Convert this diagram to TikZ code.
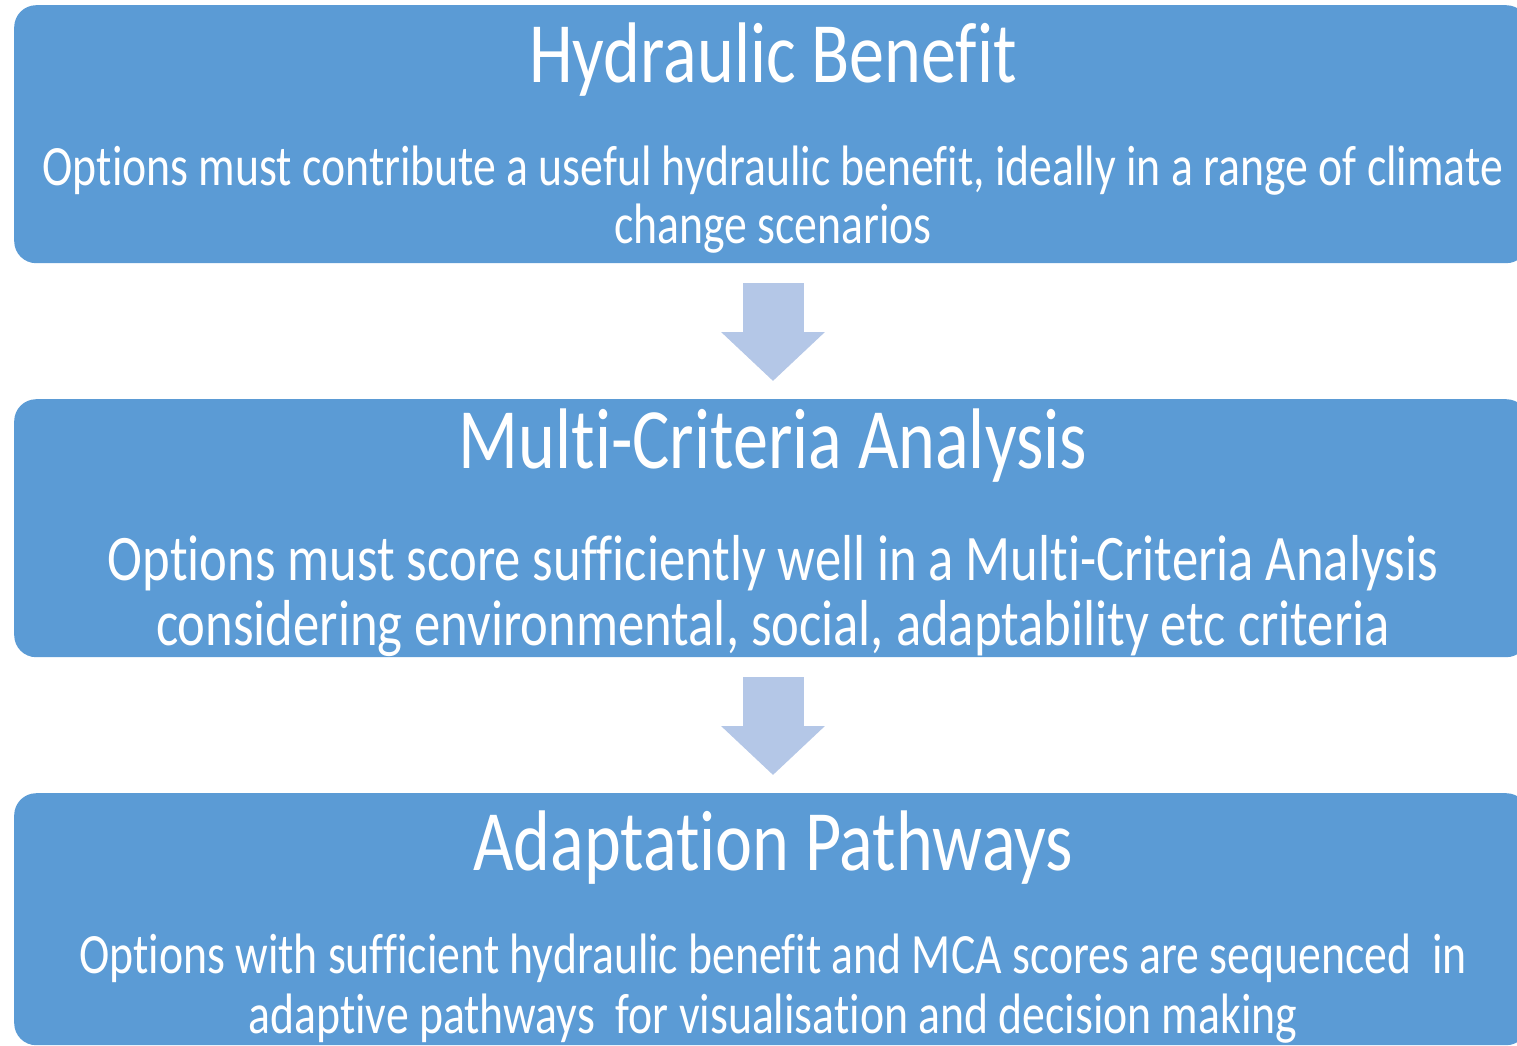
\documentclass[tikz,border=0pt]{standalone}
\usepackage{graphicx}
\usepackage{fontspec}
\setmainfont[Ligatures={NoCommon}]{Carlito}
\usetikzlibrary{arrows.meta}
\definecolor{boxblue}{HTML}{5B9BD5}
\definecolor{arrowblue}{HTML}{B4C7E7}
\newcommand{\narrow}[1]{\scalebox{0.815}[1]{#1}}
\newcommand{\narrowb}[1]{\scalebox{0.802}[1]{#1}}
\newcommand{\narrowc}[1]{\scalebox{0.81}[1]{#1}}
\begin{document}
\begin{tikzpicture}[x=1pt,y=-1pt,
  box/.style={fill=boxblue, draw=none, rounded corners=22pt, anchor=north west, minimum width=1514pt, minimum height=258pt, inner sep=0pt},
  title/.style={anchor=base, text=white, font=\fontsize{86}{100}\selectfont, inner sep=0pt},
  body/.style={anchor=base, text=white, inner sep=0pt},
  flow/.style={draw=arrowblue, line width=61pt, -{Triangle[width=101pt,length=49pt]}, arrowblue}]
\useasboundingbox (0,0) rectangle (1517,1046);
\node[box] (b1) at (14,5) {};
\node[box] (b2) at (14,399) {};
\node[box, minimum height=252pt] (b3) at (14,793) {};
\node[title] (t1) at (773,83) {\narrow{Hydraulic Benefit}};
\node[body, font=\fontsize{57}{60}\selectfont] (p1a) at (773,185) {\narrowb{Options must contribute a useful hydraulic benefit, ideally in a range of climate}};
\node[body, font=\fontsize{57}{60}\selectfont] (p1b) at (773,243) {\narrowb{change scenarios}};
\node[title] (t2) at (773,468) {\narrow{Multi-Criteria Analysis}};
\node[body, font=\fontsize{65}{70}\selectfont] (p2a) at (773,580) {\narrowc{Options must score sufficiently well in a Multi-Criteria Analysis}};
\node[body, font=\fontsize{65}{70}\selectfont] (p2b) at (773,645) {\narrowc{considering environmental, social, adaptability etc criteria}};
\node[title] (t3) at (773,870) {\narrow{Adaptation Pathways}};
\node[body, font=\fontsize{57}{60}\selectfont] (p3a) at (773,973) {\narrowb{Options with sufficient hydraulic benefit and MCA scores are sequenced \ in}};
\node[body, font=\fontsize{57}{60}\selectfont] (p3b) at (773,1033) {\narrowb{adaptive pathways \ for visualisation and decision making}};
\draw[flow] ([yshift=-20pt]b1.south -| t1.base) -- ([yshift=18pt]b2.north -| t1.base);
\draw[flow] ([yshift=-20pt]b2.south -| t1.base) -- ([yshift=18pt]b3.north -| t1.base);
\end{tikzpicture}
\end{document}
